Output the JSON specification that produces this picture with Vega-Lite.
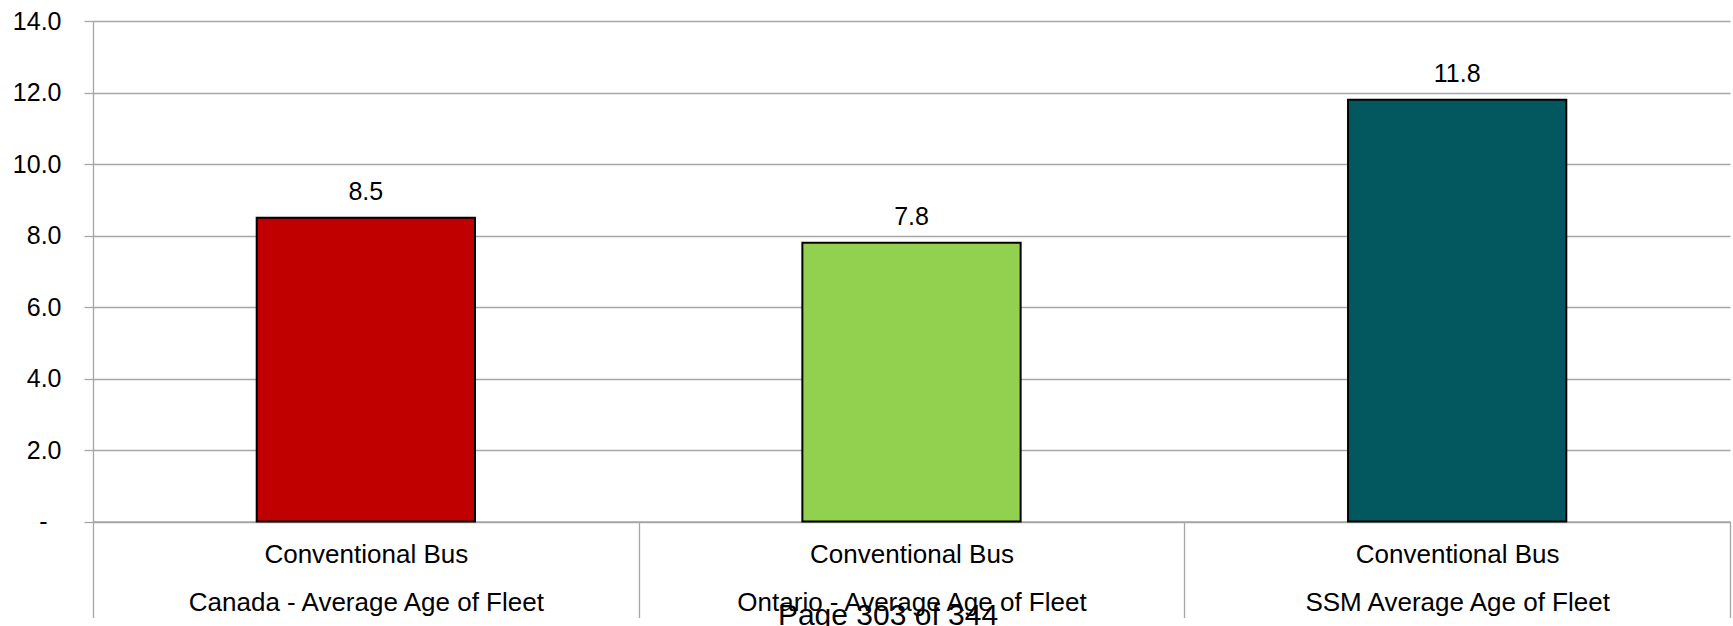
{
  "$schema": "https://vega.github.io/schema/vega-lite/v6.json",
  "width": 1637,
  "height": 500.5,
  "autosize": {"type": "none"},
  "padding": {"left": 93, "top": 21, "right": 3, "bottom": 104.5},
  "background": "white",
  "config": {
    "view": {"stroke": null},
    "font": "Liberation Sans"
  },
  "title": {
    "text": "Page 303 of 344",
    "orient": "bottom",
    "anchor": "middle",
    "baseline": "alphabetic",
    "font": "Liberation Sans",
    "fontSize": 30,
    "fontWeight": "normal",
    "color": "#000000",
    "offset": 7,
    "dx": -23.5
  },
  "data": {
    "values": [
      {"vehicle": "Conventional Bus", "fleet": "Canada - Average Age of Fleet", "age": 8.5},
      {"vehicle": "Conventional Bus", "fleet": "Ontario - Average Age of Fleet", "age": 7.8},
      {"vehicle": "Conventional Bus", "fleet": "SSM Average Age of Fleet", "age": 11.8}
    ]
  },
  "encoding": {
    "x": {
      "field": "fleet",
      "type": "nominal",
      "sort": null,
      "scale": {"paddingInner": 0, "paddingOuter": 0},
      "axis": {
        "title": null,
        "labelAngle": 0,
        "tickBand": "extent",
        "tickSize": 96,
        "tickWidth": 1.3,
        "tickColor": "#a6a6a6",
        "domainColor": "#a6a6a6",
        "domainWidth": 1.3,
        "labelExpr": "datum.label ? ['Conventional Bus', datum.label] : ''",
        "labelBaseline": "alphabetic",
        "labelPadding": -55.2,
        "labelLineHeight": 48,
        "labelFontSize": 26,
        "labelColor": "#000000",
        "labelLimit": 800,
        "labelOverlap": false,
        "labelFlush": false
      }
    },
    "y": {
      "field": "age",
      "type": "quantitative",
      "scale": {"domain": [0, 14], "nice": false},
      "axis": {
        "title": null,
        "values": [0, 2, 4, 6, 8, 10, 12, 14],
        "labelExpr": "datum.value == 0 ? '-' : format(datum.value, '.1f')",
        "labelFontSize": 25,
        "labelColor": "#000000",
        "labelPadding": {"condition": {"test": "datum.value == 0", "value": 37}, "value": 23},
        "tickSize": 9,
        "tickWidth": 1.3,
        "tickColor": "#a6a6a6",
        "domainColor": "#a6a6a6",
        "domainWidth": 1.3,
        "grid": true,
        "gridColor": "#a6a6a6",
        "gridWidth": 1.3
      }
    }
  },
  "layer": [
    {
      "mark": {"type": "bar", "width": {"band": 0.4}, "stroke": "#000000", "strokeWidth": 2},
      "encoding": {
        "color": {
          "field": "fleet",
          "type": "nominal",
          "scale": {
            "domain": ["Canada - Average Age of Fleet", "Ontario - Average Age of Fleet", "SSM Average Age of Fleet"],
            "range": ["#c00000", "#92d050", "#03585f"]
          },
          "legend": null
        }
      }
    },
    {
      "mark": {"type": "text", "baseline": "alphabetic", "dy": -17.6, "fontSize": 25, "color": "#000000"},
      "encoding": {
        "text": {"field": "age", "type": "quantitative", "format": ".1f"}
      }
    }
  ]
}
